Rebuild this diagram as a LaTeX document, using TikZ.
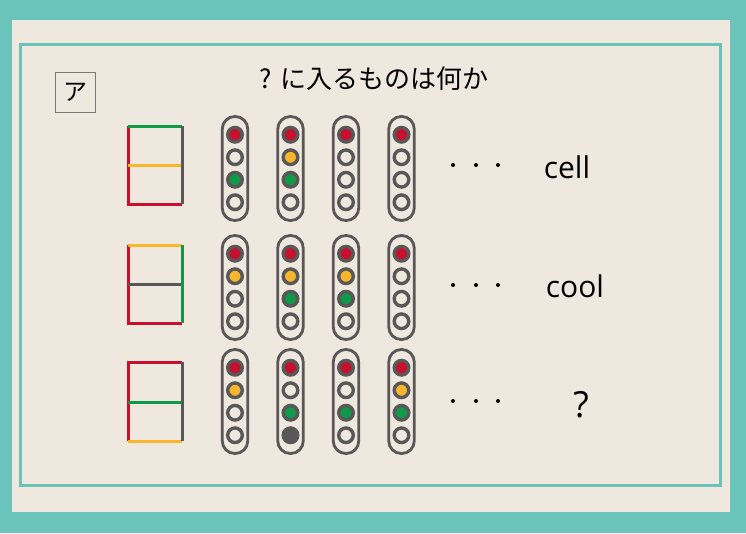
\documentclass[tikz,border=0pt]{standalone}
\usepackage{fontspec}
\setmainfont{Open Sans}
\newfontfamily\jpfont{Noto Sans CJK JP}
\definecolor{Teal}{HTML}{6AC4BA}
\definecolor{Paper}{HTML}{EEE8DE}
\definecolor{LampRed}{HTML}{C8102E}
\definecolor{LampAmber}{HTML}{F8B62D}
\definecolor{LampGreen}{HTML}{0E9A48}
\definecolor{Housing}{HTML}{595757}

\begin{document}
\begin{tikzpicture}[x=1pt,y=-1pt,
      pill/.style={draw=Housing,line width=2.8pt,rounded corners=12.5pt,
                   minimum width=25.5pt,minimum height=104pt,inner sep=0pt},
      lamp/.style={circle,draw=Housing,line width=3.4pt,minimum size=14.6pt,inner sep=0pt},
      seg/.style={line width=3pt},
      dot/.style={circle,fill=black,inner sep=0pt,minimum size=4pt},
      word/.style={anchor=base,font=\fontsize{30}{30}\selectfont}]
    \useasboundingbox (0,0) rectangle (746,533);
    \fill[Teal] (0,0) rectangle (746,533);
    \fill[Paper] (12,20) rectangle (730,512);
    \draw[Teal,line width=3pt] (20,44) rectangle (720,485);
    % heading
    \node[draw=Housing!80,line width=0.8pt,minimum size=40pt,inner sep=0pt,
          font=\jpfont\fontsize{24}{24}\selectfont] (tag) at (75,92) {ア};
    \node[font=\jpfont\fontsize{26}{26}\selectfont] (title) at (374,79) {? に入るものは何か};
    % segment figures
    \draw[seg,LampRed] (128,126) -- (128,204) -- (182,204);
    \draw[seg,LampGreen] (128,126) -- (182,126);
    \draw[seg,LampAmber] (128,165) -- (182,165);
    \draw[seg,Housing] (182,126) -- (182,204);
    \draw[seg,LampRed] (128,245) -- (128,323) -- (182,323);
    \draw[seg,LampAmber] (128,245) -- (182,245);
    \draw[seg,Housing] (128,284) -- (182,284);
    \draw[seg,LampGreen] (182,245) -- (182,323);
    \draw[seg,LampRed] (182,362) -- (128,362) -- (128,441);
    \draw[seg,LampGreen] (128,402) -- (182,402);
    \draw[seg,LampAmber] (128,441) -- (182,441);
    \draw[seg,Housing] (182,362) -- (182,441);
    % signals
    \foreach \r/\c/\x/\y/\states in {
        1/1/235/168.5/{LampRed,none,LampGreen,none},
        1/2/290.5/168.5/{LampRed,LampAmber,LampGreen,none},
        1/3/346/168.5/{LampRed,none,none,none},
        1/4/401.5/168.5/{LampRed,none,none,none},
        2/1/235/287.5/{LampRed,LampAmber,none,none},
        2/2/290.5/287.5/{LampRed,LampAmber,LampGreen,none},
        2/3/346/287.5/{LampRed,LampAmber,LampGreen,none},
        2/4/401.5/287.5/{LampRed,none,none,none},
        3/1/235/401.5/{LampRed,LampAmber,none,none},
        3/2/290.5/401.5/{LampRed,none,LampGreen,Housing},
        3/3/346/401.5/{LampRed,none,LampGreen,none},
        3/4/401.5/401.5/{LampRed,LampAmber,LampGreen,none}} {
      \node[pill] (sig-\r-\c) at (\x,\y) {};
      \foreach \f [count=\k] in \states
        \node[lamp,fill=\f] (sig-\r-\c-\k) at (\x,{\y+(\k-2.5)*22.5}) {};
    }
    % dots and answers
    \foreach \r/\y in {1/165,2/285,3/401} {
      \node[dot] (dots-\r-a) at (453,\y) {};
      \node[dot] (dots-\r-b) at (476,\y) {};
      \node[dot] (dots-\r-c) at (498,\y) {};
    }
    \node[word] (cell) at (567,178) {cell};
    \node[word] (cool) at (575,297) {cool};
    \node[word,font=\fontsize{36}{36}\selectfont] (ask) at (581,417) {?};
  \end{tikzpicture}
\end{document}
